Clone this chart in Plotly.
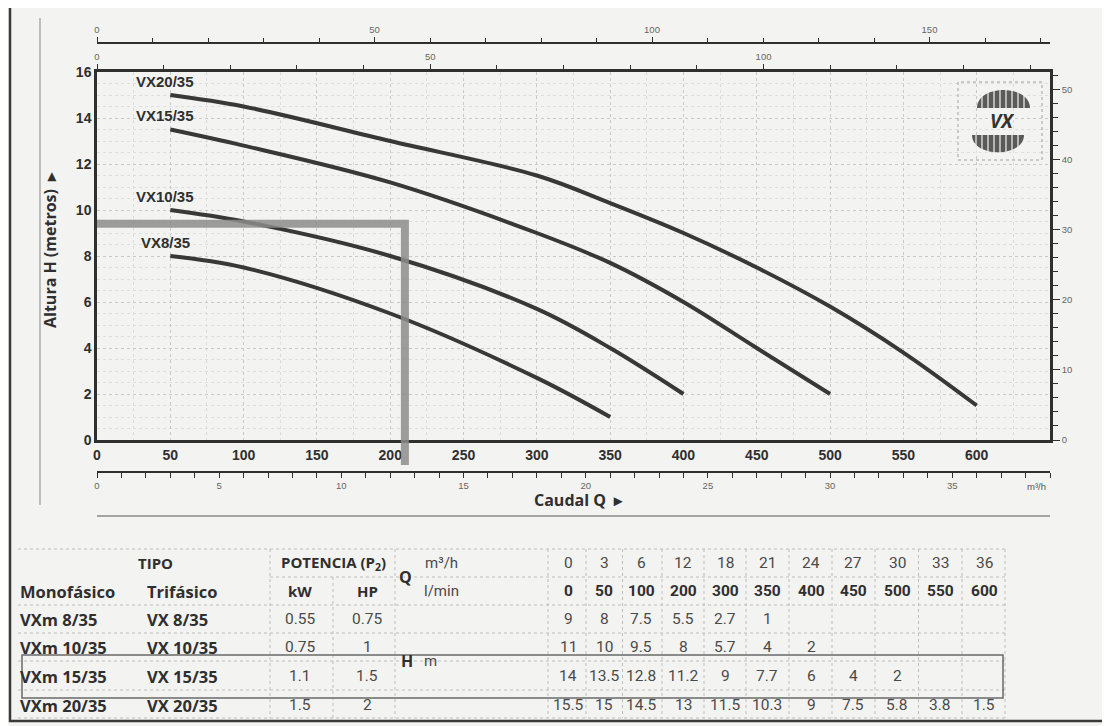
import plotly.graph_objects as go

# ---------------- data ----------------
flow_lmin = [0, 50, 100, 200, 300, 350, 400, 450, 500, 550, 600]
flow_m3h = [0, 3, 6, 12, 18, 21, 24, 27, 30, 33, 36]
head_vx8 = [9, 8, 7.5, 5.5, 2.7, 1]
head_vx10 = [11, 10, 9.5, 8, 5.7, 4, 2]
head_vx15 = [14, 13.5, 12.8, 11.2, 9, 7.7, 6, 4, 2]
head_vx20 = [15.5, 15, 14.5, 13, 11.5, 10.3, 9, 7.5, 5.8, 3.8, 1.5]
curve_names = ["VX8/35", "VX10/35", "VX15/35", "VX20/35"]
models_mono = ["VXm 8/35", "VXm 10/35", "VXm 15/35", "VXm 20/35"]
models_tri = ["VX 8/35", "VX 10/35", "VX 15/35", "VX 20/35"]
power_kw = ["0.55", "0.75", "1.1", "1.5"]
power_hp = ["0.75", "1", "1.5", "2"]
lmin_ticks = [0, 50, 100, 150, 200, 250, 300, 350, 400, 450, 500, 550, 600]
op_flow = 210   # highlighted duty point (l/min)
op_head = 9.4   # highlighted duty point (m)

heads = [head_vx8, head_vx10, head_vx15, head_vx20]

LMIN_MAX = 650
US_GPM = 0.264172
IMP_GPM = 0.219969
M3H = 0.06
FT = 3.28084

# ---------------- layout helpers (page pixel -> paper) ----------------
OFF = 8                       # page body margin
FW, FH = 1110 - OFF, 726 - OFF
L, R, T, B = 97, 1050, 20, 520   # in page pixels


def px(x):
    return (x - L) / (R - L)


def py(y):
    return (B - y) / (B - T)


NARROW = "Liberation Sans Narrow, Arial Narrow, Liberation Sans, sans-serif"
SANS = "Open Sans, Liberation Sans, sans-serif"
NUM = "Roboto, Open Sans, sans-serif"
DARK = "#2f2f2f"
BG = "#f3f3f1"

fig = go.Figure()

# invisible helper traces to bind secondary axes
fig.add_trace(go.Scatter(x=[f * IMP_GPM for f in flow_lmin], y=head_vx20, xaxis="x2", yaxis="y",
                         mode="lines", line=dict(width=0), opacity=0, hoverinfo="skip", showlegend=False))
fig.add_trace(go.Scatter(x=[f * US_GPM for f in flow_lmin], y=head_vx20, xaxis="x3", yaxis="y",
                         mode="lines", line=dict(width=0), opacity=0, hoverinfo="skip", showlegend=False))
fig.add_trace(go.Scatter(x=flow_m3h, y=head_vx20, xaxis="x4", yaxis="y",
                         mode="lines", line=dict(width=0), opacity=0, hoverinfo="skip", showlegend=False))
fig.add_trace(go.Scatter(x=flow_lmin, y=[h * FT for h in head_vx20], xaxis="x", yaxis="y2",
                         mode="lines", line=dict(width=0), opacity=0, hoverinfo="skip", showlegend=False))

# pump curves (start at 50 l/min)
for name, h in zip(curve_names, heads):
    xs = flow_lmin[1:len(h)]
    ys = h[1:]
    fig.add_trace(go.Scatter(x=xs, y=ys, mode="lines", name=name, showlegend=False,
                             line=dict(color="#383838", width=4, shape="spline", smoothing=1.0)))
    fig.add_annotation(x=xs[0], y=ys[0], xref="x", yref="y", text=name, showarrow=False,
                       xanchor="center", yanchor="middle", xshift=-5, yshift=14,
                       font=dict(family=NARROW, size=15, color=DARK, weight="bold"))

# highlighted duty point (grey L)
GREY = "rgba(140,140,140,0.85)"
fig.add_trace(go.Scatter(x=[0, op_flow, op_flow], y=[op_head, op_head, 0], mode="lines",
                         showlegend=False, hoverinfo="skip", line=dict(color=GREY, width=8)))
fig.add_shape(type="line", xref="x", yref="paper", x0=op_flow, x1=op_flow, y0=py(440), y1=py(465),
              line=dict(color=GREY, width=8))

small_font = dict(family=NARROW, size=9.5, color="#666")

fig.update_layout(
    width=FW, height=FH,
    margin=dict(l=L - OFF, r=FW - (R - OFF), t=T - OFF, b=FH - (B - OFF), autoexpand=False),
    paper_bgcolor=BG, plot_bgcolor=BG,
    showlegend=False,
    xaxis=dict(domain=[0, 1], range=[0, LMIN_MAX], anchor="y", tickvals=lmin_ticks,
               showline=True, linecolor=DARK, linewidth=2.5, ticks="", zeroline=False,
               showgrid=True, gridcolor="#c9c9c9", griddash="dot", gridwidth=1,
               minor=dict(dtick=25, tick0=0, showgrid=True, gridcolor="#dcdcdc", griddash="dot"),
               tickfont=dict(family=NARROW, size=14, color=DARK, weight="bold")),
    yaxis=dict(domain=[py(440), py(72)], range=[0, 16], dtick=2, anchor="x",
               showline=True, linecolor=DARK, linewidth=2.5, ticks="", zeroline=False,
               showgrid=True, gridcolor="#c9c9c9", griddash="dot", gridwidth=1,
               minor=dict(dtick=0.5, showgrid=True, gridcolor="#dedede", griddash="dot"),
               tickfont=dict(family=NARROW, size=14, color=DARK, weight="bold")),
    yaxis2=dict(overlaying="y", side="right", anchor="x", range=[0, 16 * FT],
                tickvals=[0, 10, 20, 30, 40, 50], ticks="outside", ticklen=7, tickcolor=DARK,
                minor=dict(dtick=2, ticks="outside", ticklen=5, tickcolor=DARK),
                showline=True, linecolor=DARK, linewidth=2.5, showgrid=False, zeroline=False,
                tickfont=small_font),
    xaxis2=dict(overlaying="x", anchor="y", side="top", range=[0, LMIN_MAX * IMP_GPM],
                dtick=50, tick0=0, ticks="outside", ticklen=5, tickcolor=DARK,
                minor=dict(dtick=10, ticks="outside", ticklen=4, tickcolor=DARK),
                showline=True, linecolor=DARK, linewidth=2.5, showgrid=False, zeroline=False,
                tickfont=small_font),
    xaxis3=dict(overlaying="x", anchor="free", position=py(43), side="top",
                range=[0, LMIN_MAX * US_GPM], dtick=50, tick0=0, ticks="outside", ticklen=5,
                tickcolor=DARK, minor=dict(dtick=10, ticks="outside", ticklen=4, tickcolor=DARK),
                showline=True, linecolor=DARK, linewidth=1.5, showgrid=False, zeroline=False,
                tickfont=small_font),
    xaxis4=dict(overlaying="x", anchor="free", position=py(472), side="bottom",
                range=[0, LMIN_MAX * M3H], dtick=5, tick0=0, ticks="outside", ticklen=5,
                tickcolor=DARK, minor=dict(dtick=1, ticks="outside", ticklen=5, tickcolor=DARK),
                showline=True, linecolor=DARK, linewidth=1.5, showgrid=False, zeroline=False,
                tickfont=small_font),
)

ann = []


def text(x, y, s, size=14, weight="normal", color=DARK, family=SANS, xanchor="center", angle=0):
    ann.append(dict(x=px(x), y=py(y), xref="paper", yref="paper", text=s, showarrow=False,
                    xanchor=xanchor, yanchor="middle", textangle=angle,
                    font=dict(family=family, size=size, color=color, weight=weight)))


# axis unit labels
text(1052, 33, "US g.p.m.", size=9.5, color="#555", family=NARROW, xanchor="right")
text(1052, 61, "Imp g.p.m.", size=9.5, color="#555", family=NARROW, xanchor="right")
text(1066, 80, "feet", size=9.5, color="#555", family=NARROW)
text(1030, 452, "l/min", size=14, weight="bold", family=NARROW)
text(1036, 487, "m³/h", size=9.5, color="#555", family=NARROW)
text(578, 500, "Caudal Q  ▸", size=16, weight="bold")
text(50, 250, "Altura H (metros)  ▸", size=16, weight="bold", angle=-90)
text(1002, 121, "<i>VX</i>", size=19, weight="bold", color="#333")

# ---------------- table ----------------
rows_y = [563, 591, 619, 647, 676, 705]
val_x = [568, 604, 641, 683, 725, 767, 811, 853, 897, 940, 984]
VAL = "#4a4a4a"
text(155, rows_y[0], "TIPO", size=15, weight="bold")
text(333, rows_y[0], "POTENCIA (P<sub>2</sub>)", size=15, weight="bold")
text(18, rows_y[1], "Monofásico", size=16.5, weight="bold", xanchor="left")
text(145, rows_y[1], "Trifásico", size=16.5, weight="bold", xanchor="left")
text(300, rows_y[1], "kW", size=15, weight="bold")
text(367, rows_y[1], "HP", size=15, weight="bold")
text(405, 577, "Q", size=16, weight="bold")
text(441, rows_y[0], "m³/h", size=15, color=VAL, family=NUM)
text(441, rows_y[1], "l/min", size=15, color=VAL, family=NUM)
text(407, 661, "H", size=16, weight="bold")
text(430, 661, "m", size=15, color=VAL, family=NUM)
for j, (q1, q2) in enumerate(zip(flow_m3h, flow_lmin)):
    text(val_x[j], rows_y[0], str(q1), size=15.5, color=VAL, family=NUM)
    text(val_x[j], rows_y[1], str(q2), size=15.5, weight="bold", family=NUM)
for i in range(4):
    yy = rows_y[2 + i]
    text(18, yy, models_mono[i], size=16.5, weight="bold", xanchor="left")
    text(145, yy, models_tri[i], size=16.5, weight="bold", xanchor="left")
    text(300, yy, power_kw[i], size=15.5, color=VAL, family=NUM)
    text(367, yy, power_hp[i], size=15.5, color=VAL, family=NUM)
    for j, h in enumerate(heads[i]):
        text(val_x[j], yy, f"{h:g}", size=15.5, color=VAL, family=NUM)

fig.update_layout(annotations=ann)

shapes = []


def hline(y, x0, x1, color="#bdbdbd", width=1, dash="dot"):
    shapes.append(dict(type="line", xref="paper", yref="paper", x0=px(x0), x1=px(x1), y0=py(y), y1=py(y),
                       line=dict(color=color, width=width, dash=dash)))


def vline(x, y0, y1, color="#bdbdbd", width=1, dash="dot"):
    shapes.append(dict(type="line", xref="paper", yref="paper", x0=px(x), x1=px(x), y0=py(y0), y1=py(y1),
                       line=dict(color=color, width=width, dash=dash)))


for y in [549, 605, 633, 661, 690, 718]:
    hline(y, 18, 1005)
hline(577, 270, 1005)
for x in [270, 395, 548, 1005]:
    vline(x, 549, 718)
vline(333, 577, 718)
for a, b in zip(val_x[:-1], val_x[1:]):
    vline((a + b) / 2, 549, 718)

# highlighted table row
shapes.append(dict(type="rect", xref="paper", yref="paper", x0=px(22), x1=px(1003), y0=py(655), y1=py(698),
                   line=dict(color="#6a6a6a", width=1.5)))
# rule under "Caudal Q"
hline(516, 97, 1050, color="#555", width=1.2, dash="solid")
# outer frame and inner left rule
shapes.append(dict(type="rect", xref="paper", yref="paper", x0=px(10), x1=px(1106), y0=py(5), y1=py(721),
                   line=dict(color="#3a3a3a", width=2.5)))
vline(40, 18, 505, color="#9a9a9a", width=1.2, dash="solid")

# logo box
shapes.append(dict(type="rect", xref="paper", yref="paper", x0=px(958), x1=px(1042), y0=py(160), y1=py(82),
                   line=dict(color="#a0a0a0", width=1, dash="dot")))


def P(x, y):
    return f"{px(x):.5f},{py(y):.5f}"


shapes.append(dict(type="path", xref="paper", yref="paper",
                   path=f"M{P(977,108)} C{P(977,84)} {P(1030,84)} {P(1030,108)} Z",
                   fillcolor="#5a5a5a", line=dict(width=0)))
shapes.append(dict(type="path", xref="paper", yref="paper",
                   path=f"M{P(972,135)} C{P(972,158)} {P(1024,158)} {P(1024,135)} Z",
                   fillcolor="#5a5a5a", line=dict(width=0)))
# stripes on logo domes
for sx in range(982, 1028, 6):
    vline(sx, 86, 108, color=BG, width=1.2, dash="solid")
for sx in range(976, 1022, 6):
    vline(sx, 135, 153, color=BG, width=1.2, dash="solid")

fig.update_layout(shapes=list(fig.layout.shapes) + shapes)

fig.write_html("out.html")
